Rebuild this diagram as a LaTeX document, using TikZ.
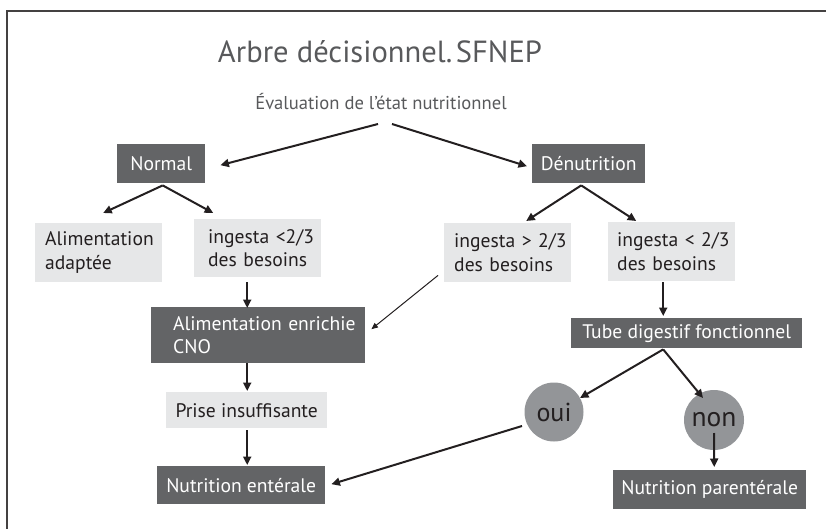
\documentclass[tikz,border=0pt]{standalone}
\usepackage{fontspec}
\setmainfont{PT Sans}
\usetikzlibrary{arrows.meta,calc}
\definecolor{dk}{HTML}{636466}
\definecolor{lt}{HTML}{E6E7E8}
\definecolor{cg}{HTML}{939598}
\definecolor{tg}{HTML}{58595B}
\definecolor{ar}{HTML}{231F20}
\newcommand{\pd}[1]{\hspace*{#1}}
\begin{document}
\begin{tikzpicture}[x=1pt,y=-1pt,
  boxfont/.style={font=\fontsize{19.6}{23.5}\selectfont},
  dbox/.style={boxfont, fill=dk, text=white, inner sep=0pt, anchor=north west},
  lbox/.style={boxfont, fill=lt, text=ar, inner sep=0pt, anchor=north west},
  mbox/.style={text width=#1, align=left},
  rnd/.style={circle, fill=cg, text=ar, inner sep=0pt, minimum size=59pt},
  arr/.style={draw=ar, line width=2pt, -{Triangle[length=8.5pt,width=8pt]}},
  thinarr/.style={draw=ar, line width=1pt, -{Triangle[length=6.5pt,width=5.5pt]}}]
\useasboundingbox (0,0) rectangle (826,529);
\draw[draw=ar!85, line width=1.4pt] (826,11) -- (7,11) -- (7,529);

\node[anchor=base, text=tg, inner sep=0pt] (title) at (380,63)
  {\fontsize{30}{36}\selectfont\resizebox{324pt}{!}{Arbre décisionnel.\hspace{0.12em}SFNEP}};
\node[anchor=base, text=tg, inner sep=0pt, font=\fontsize{18.6}{22}\selectfont] (eval) at (381,110)
  {Évaluation de l’état nutritionnel};

\node[dbox, minimum width=88pt, minimum height=39pt] (norm) at (117,144) {Normal};
\node[dbox, minimum width=113pt, minimum height=39pt] (den) at (532,144) {Dénutrition};

\node[lbox, mbox=127pt, minimum height=59pt] (adapt) at (35,223) {\pd{10pt}Alimentation\\\pd{10pt}adaptée};
\node[lbox, mbox=127pt, minimum height=58pt] (ingL) at (194,219) {\pd{14pt}ingesta <2/3\\\pd{14pt}des besoins};
\node[lbox, mbox=127pt, minimum height=59pt] (ingM) at (444,223) {\pd{10pt}ingesta > 2/3\\\pd{10pt}des besoins};
\node[lbox, mbox=127pt, minimum height=59pt] (ingR) at (608,222) {\pd{9pt}ingesta < 2/3\\\pd{9pt}des besoins};

\node[dbox, mbox=214pt, minimum height=56pt] (enrich) at (151,307) {\pd{22pt}Alimentation enrichie\\\pd{22pt}CNO};
\node[dbox, minimum width=231pt, minimum height=30pt] (tube) at (571,318) {Tube digestif fonctionnel};
\node[lbox, minimum width=161pt, minimum height=36pt] (prise) at (166,392) {Prise insuffisante};
\node[dbox, minimum width=168pt, minimum height=38pt] (ent) at (157,466) {Nutrition entérale};
\node[dbox, minimum width=193pt, minimum height=39pt] (par) at (613,470) {Nutrition parentérale};

\node[rnd, font=\fontsize{26}{30}\selectfont] (oui) at (554,412) {oui};
\node[rnd, minimum size=60pt, font=\fontsize{27.5}{32}\selectfont] (non) at (714,420) {non};

\draw[arr] ($(eval.base)+(-3,14)$) -- ($(norm.east)+(15,1.5)$);
\draw[arr] ($(eval.base)+(11,14)$) -- ($(den.west)+(-5,2.5)$);
\draw[arr] ($(norm.south)+(1.5,2)$) -- ($(adapt.north)+(4.5,-10)$);
\draw[arr] ($(norm.south)+(1.5,2)$) -- ($(ingL.north)+(-44.5,-6)$);
\draw[arr] ($(den.south)+(-7.5,2)$) -- ($(ingM.north)+(18.5,-2)$);
\draw[arr] ($(den.south)+(-7.5,2)$) -- ($(ingR.north)+(-35.5,-1)$);
\draw[arr] ($(ingL.south)+(-10.5,5)$) -- ($(enrich.north)+(-11,1)$);
\draw[thinarr] ($(ingM.south west)+(-6,-7)$) -- ($(enrich.east)+(6,-6)$);
\draw[arr] ($(ingR.south)+(-8.5,1)$) -- ($(tube.north)+(-23.5,-2)$);
\draw[arr] ($(enrich.south)+(-11,0)$) -- ($(prise.north)+(0.5,-1)$);
\draw[arr] ($(prise.south)+(0.5,2)$) -- ($(ent.north)+(6,-1)$);
\draw[arr] ($(tube.south)+(-23.5,1)$) -- ($(oui.center)+(26,-14)$);
\draw[arr] ($(tube.south)+(-23.5,1)$) -- ($(non.center)+(-11,-22)$);
\draw[arr] ($(oui.center)+(-32,14)$) -- ($(ent.east)+(6,-1)$);
\draw[arr] ($(non.center)+(0,13)$) -- ($(par.north)+(4.5,-3)$);
\end{tikzpicture}
\end{document}
